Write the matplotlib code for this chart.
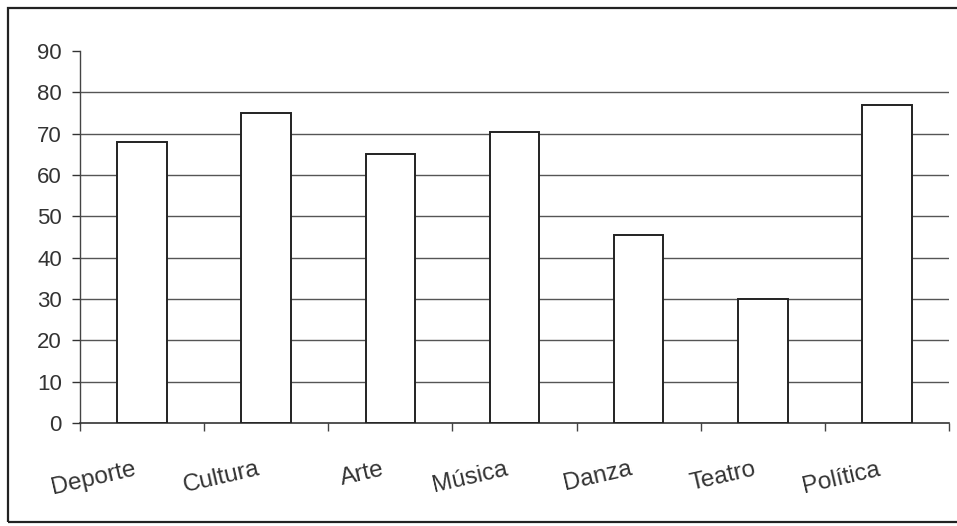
import numpy as np
import matplotlib
matplotlib.use("Agg")
import matplotlib.pyplot as plt
import matplotlib.transforms as mtransforms
from matplotlib.patches import Rectangle

# data
categories = ['Deporte', 'Cultura', 'Arte', 'Música', 'Danza', 'Teatro', 'Política']
values = [68, 75, 65, 70.5, 45.5, 30, 77]
yticks = [0, 10, 20, 30, 40, 50, 60, 70, 80, 90]

plt.rcParams['font.family'] = ['Liberation Sans', 'DejaVu Sans']

fig = plt.figure(figsize=(9.57, 5.26), dpi=100)
ax = fig.add_axes([0.0836, 0.1958, 0.908, 0.707])

x = np.arange(len(categories))
ax.bar(x, values, width=0.4, color='white', edgecolor='#222222', linewidth=1.4, zorder=3)

ax.set_xlim(-0.5, len(categories) - 0.5)
ax.set_ylim(0, 90)
ax.set_yticks(yticks)
ax.tick_params(axis='y', labelsize=16, colors='#333333', length=6, width=1,
               pad=7, direction='out')

# gridlines (no line at 0 and 90 beyond axis)
for v in yticks[1:-1]:
    ax.axhline(v, color='#555555', linewidth=1, zorder=1)

# tick marks between categories, labels at centres
ax.set_xticks(np.arange(len(categories) + 1) - 0.5, minor=True)
ax.set_xticks(x)
ax.set_xticklabels(categories, rotation=13, ha='right', va='center',
                   rotation_mode='anchor', fontsize=17.5, color='#333333')
ax.tick_params(axis='x', which='major', length=0, pad=33)
ax.tick_params(axis='x', which='minor', length=6, width=1, color='#444444', direction='out')
shift = mtransforms.ScaledTranslation(-0.07, 0, fig.dpi_scale_trans)
for lbl in ax.get_xticklabels():
    lbl.set_transform(lbl.get_transform() + shift)

for s in ['top', 'right']:
    ax.spines[s].set_visible(False)
ax.spines['left'].set_color('#444444')
ax.spines['bottom'].set_color('#333333')
ax.spines['left'].set_linewidth(1)
ax.spines['bottom'].set_linewidth(1.2)

# outer frame of the chart area
fig.add_artist(Rectangle((0.0084, 0.0076), 1.05, 0.9772, transform=fig.transFigure,
                         fill=False, edgecolor='#222222', linewidth=1.6, clip_on=False))

fig.savefig('out.png', dpi=100)
